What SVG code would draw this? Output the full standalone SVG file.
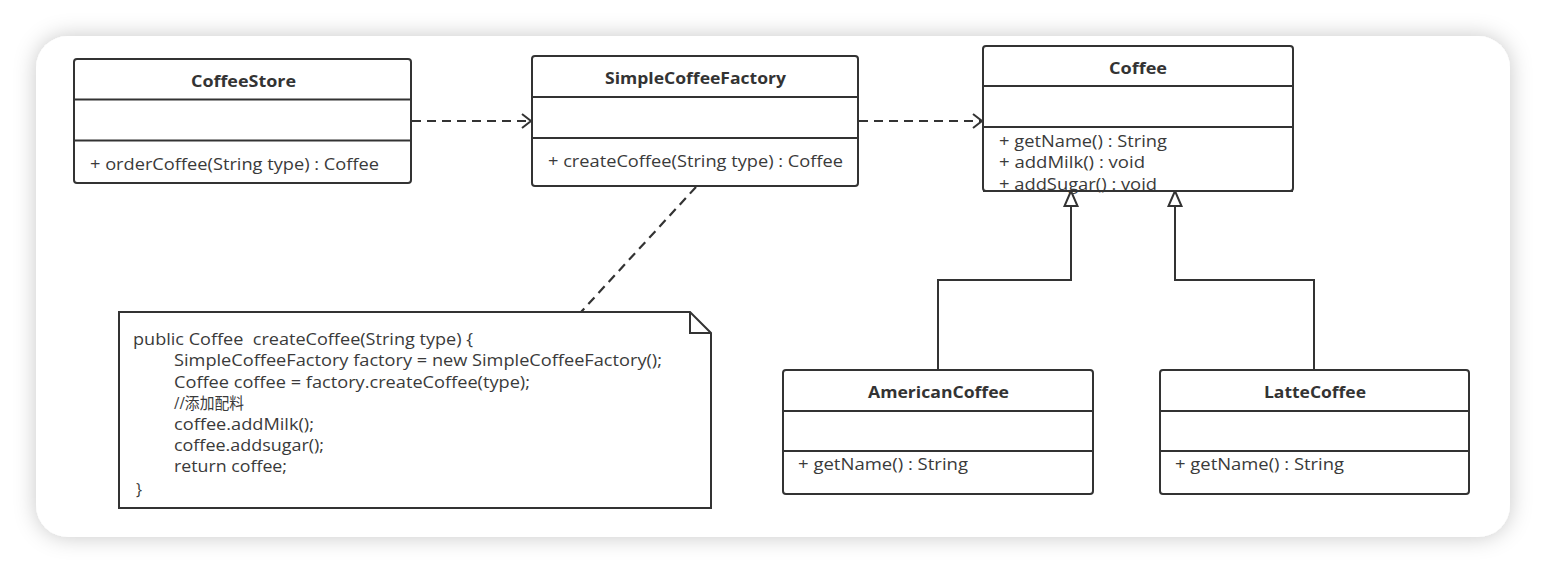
<svg xmlns="http://www.w3.org/2000/svg" width="1546" height="574" viewBox="0 0 1546 574">
<defs>
<style>
.box{fill:#fff;stroke:#333;stroke-width:2}
.sep{stroke:#333;stroke-width:2;fill:none}
.title{font-family:"Open Sans","Noto Sans CJK SC",sans-serif;font-size:16px;font-weight:bold;fill:#333}
.txt{font-family:"Open Sans","Noto Sans CJK SC",sans-serif;font-size:16.5px;fill:#3a3a3a}
.code{font-family:"Open Sans","Noto Sans CJK SC",sans-serif;font-size:16px;fill:#3a3a3a}
.dash{stroke:#333;stroke-width:2.2;fill:none;stroke-dasharray:9 6}
.solid{stroke:#333;stroke-width:2;fill:none}
</style>
<filter id="sh" x="-10%" y="-20%" width="120%" height="140%">
<feDropShadow dx="0" dy="0" stdDeviation="11" flood-color="#000" flood-opacity="0.22"/>
</filter>
<marker id="open" markerWidth="14" markerHeight="16" refX="12" refY="8" orient="auto" markerUnits="userSpaceOnUse">
<path d="M3,1 L12,8 L3,15" fill="none" stroke="#333" stroke-width="2"/>
</marker>
<marker id="tri" markerWidth="18" markerHeight="20" refX="16" refY="8" orient="auto" markerUnits="userSpaceOnUse">
<path d="M16,8 L1,1.5 L1,14.5 Z" fill="#fff" stroke="#333" stroke-width="2"/>
</marker>
</defs>
<rect width="1546" height="574" fill="#fff"/>
<rect x="36" y="36" width="1474" height="501" rx="32" ry="32" fill="#fff" filter="url(#sh)"/>

<g id="connectors">
<line class="dash" x1="412" y1="121" x2="531" y2="121" marker-end="url(#open)"/>
<line class="dash" x1="859" y1="121" x2="982" y2="121" marker-end="url(#open)"/>
<line class="dash" x1="696" y1="187" x2="581" y2="312"/>
<polyline class="solid" points="938,370 938,280 1071,280 1071,191" marker-end="url(#tri)"/>
<polyline class="solid" points="1314,370 1314,280 1175,280 1175,191" marker-end="url(#tri)"/>
</g>

<g id="CoffeeStore">
<rect class="box" x="74" y="59" width="337" height="124" rx="3"/>
<line class="sep" x1="74" y1="99.5" x2="411" y2="99.5"/>
<line class="sep" x1="74" y1="140.5" x2="411" y2="140.5"/>
<text class="title" x="191" y="87" textLength="105" lengthAdjust="spacingAndGlyphs">CoffeeStore</text>
<text class="txt" x="90" y="170" textLength="289" lengthAdjust="spacingAndGlyphs">+ orderCoffee(String type) : Coffee</text>
</g>

<g id="SimpleCoffeeFactory">
<rect class="box" x="532" y="56" width="326" height="130" rx="3"/>
<line class="sep" x1="532" y1="97" x2="858" y2="97"/>
<line class="sep" x1="532" y1="138" x2="858" y2="138"/>
<text class="title" x="605" y="84" textLength="181" lengthAdjust="spacingAndGlyphs">SimpleCoffeeFactory</text>
<text class="txt" x="548" y="167" textLength="295" lengthAdjust="spacingAndGlyphs">+ createCoffee(String type) : Coffee</text>
</g>

<g id="Coffee">
<rect class="box" x="983" y="46" width="310" height="145" rx="3"/>
<line class="sep" x1="983" y1="86" x2="1293" y2="86"/>
<line class="sep" x1="983" y1="127" x2="1293" y2="127"/>
<text class="title" x="1109" y="74" textLength="58" lengthAdjust="spacingAndGlyphs">Coffee</text>
<text class="txt" x="999" y="147" textLength="168" lengthAdjust="spacingAndGlyphs">+ getName() : String</text>
<text class="txt" x="999" y="168" textLength="146" lengthAdjust="spacingAndGlyphs">+ addMilk() : void</text>
<text class="txt" x="999" y="189.5" textLength="158" lengthAdjust="spacingAndGlyphs">+ addSugar() : void</text>
<line class="sep" x1="983" y1="191" x2="1293" y2="191"/>
</g>

<g id="AmericanCoffee">
<rect class="box" x="783" y="370" width="310" height="124" rx="3"/>
<line class="sep" x1="783" y1="411" x2="1093" y2="411"/>
<line class="sep" x1="783" y1="451" x2="1093" y2="451"/>
<text class="title" x="868" y="398" textLength="141" lengthAdjust="spacingAndGlyphs">AmericanCoffee</text>
<text class="txt" x="798" y="470" textLength="170" lengthAdjust="spacingAndGlyphs">+ getName() : String</text>
</g>

<g id="LatteCoffee">
<rect class="box" x="1160" y="370" width="309" height="124" rx="3"/>
<line class="sep" x1="1160" y1="411" x2="1469" y2="411"/>
<line class="sep" x1="1160" y1="451" x2="1469" y2="451"/>
<text class="title" x="1264" y="398" textLength="102" lengthAdjust="spacingAndGlyphs">LatteCoffee</text>
<text class="txt" x="1175" y="470" textLength="169" lengthAdjust="spacingAndGlyphs">+ getName() : String</text>
</g>

<g id="note">
<path class="box" d="M119,312 L690,312 L711,333 L711,508 L119,508 Z"/>
<path class="sep" d="M690,312 L690,333 L711,333"/>
<text class="code" x="133" y="345" textLength="340" lengthAdjust="spacingAndGlyphs" xml:space="preserve">public Coffee  createCoffee(String type) {</text>
<text class="code" x="174" y="366" textLength="488" lengthAdjust="spacingAndGlyphs">SimpleCoffeeFactory factory = new SimpleCoffeeFactory();</text>
<text class="code" x="174" y="388" textLength="356" lengthAdjust="spacingAndGlyphs">Coffee coffee = factory.createCoffee(type);</text>
<text class="code" x="174" y="409" textLength="70" lengthAdjust="spacingAndGlyphs">//添加配料</text>
<text class="code" x="174" y="430" textLength="140" lengthAdjust="spacingAndGlyphs">coffee.addMilk();</text>
<text class="code" x="174" y="451" textLength="150" lengthAdjust="spacingAndGlyphs">coffee.addsugar();</text>
<text class="code" x="174" y="472" textLength="113" lengthAdjust="spacingAndGlyphs">return coffee;</text>
<text class="code" x="136" y="495">}</text>
</g>
</svg>
